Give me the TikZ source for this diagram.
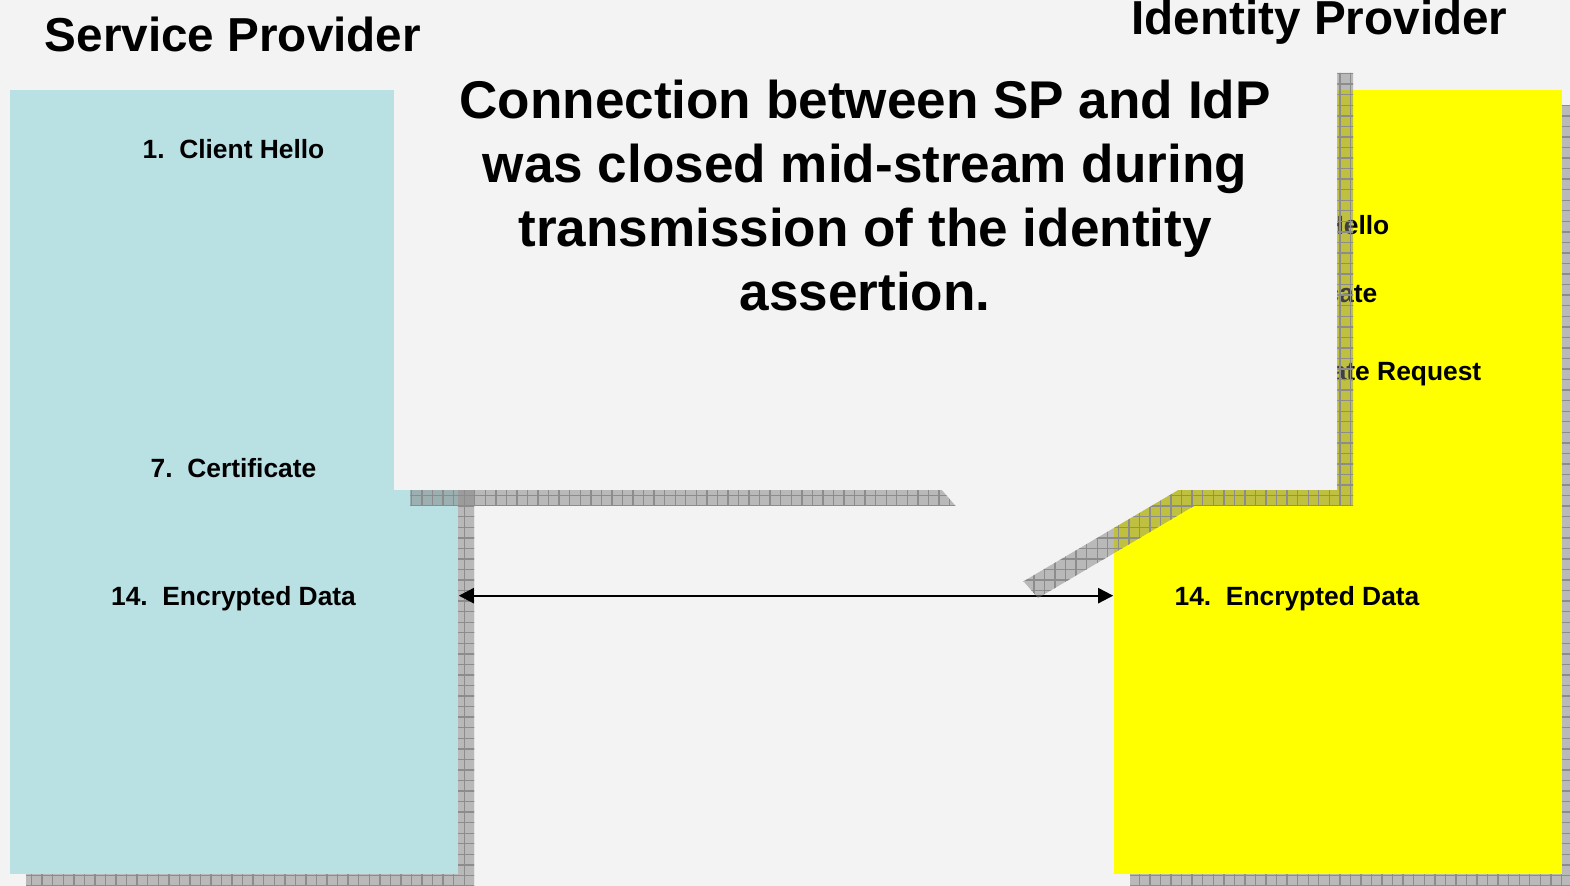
\documentclass[tikz,border=0pt]{standalone}
\usepackage{fontspec}
\setmainfont{Liberation Sans}
\usetikzlibrary{arrows.meta,patterns}

\definecolor{pagegray}{HTML}{F3F3F3}
\definecolor{spblue}{HTML}{B9E0E3}
\definecolor{idpyellow}{HTML}{FFFF00}

\begin{document}
\begin{tikzpicture}[x=0.01cm, y=-0.01cm,
  party/.style={rectangle, inner sep=0pt, minimum width=4.48cm, minimum height=7.84cm},
  shadowbox/.style={preaction={fill=gray, fill opacity=0.5},
    pattern=grid, pattern color=black!45},
  msg/.style={font=\fontsize{7.5}{9}\selectfont\bfseries, inner sep=0pt},
  partytitle/.style={font=\fontsize{13.55}{16}\selectfont\bfseries, inner sep=0pt},
  exchange/.style={arrows={Triangle[length=4.3pt,width=4.3pt]-Triangle[length=4.3pt,width=4.3pt]},
    line width=0.6pt}]

  % Page
  \fill[pagegray] (0,0) rectangle (1570,886);
  \useasboundingbox (0,0) rectangle (1570,886);

  % Service Provider column
  \fill[shadowbox] (26,106) rectangle (474,890);
  \node[party, fill=spblue] (sp) at (234,482) {};
  \node[msg, anchor=base] (sp1) at (233.5,158.5) {1.~~Client Hello};
  \node[msg, anchor=base] (sp7) at (233.5,477.5) {7.~~Certificate};
  \node[msg, anchor=base] (sp14) at (233.5,605.5) {14.~~Encrypted Data};

  % Identity Provider column
  \fill[shadowbox] (1130,106) rectangle (1578,890);
  \node[party, fill=idpyellow] (idp) at (1338,482) {};
  \node[msg, anchor=base east] (idp2) at (1390,234.5) {2.~~Server Hello};
  \node[msg, anchor=base east] (idp3) at (1378,302.5) {3.~~Certificate};
  \node[msg, anchor=base east] (idp4) at (1482,381) {4.~~Certificate Request};
  \node[msg, anchor=base] (idp14) at (1297,605.5) {14.~~Encrypted Data};

  % Data exchange
  \draw[exchange] ([yshift=0.03cm]sp.east |- sp14) -- ([yshift=0.03cm]idp.west |- idp14);

  % Callout
  \fill[shadowbox] (410,73) -- (1353,73) -- (1353,506) -- (1194,506)
    -- (1038,598) -- (958,506) -- (410,506) -- cycle;
  \fill[pagegray] (394,57) -- (1337,57) -- (1337,490) -- (1178,490)
    -- (1022,582) -- (942,490) -- (394,490) -- cycle;
  \node[font=\fontsize{15.1}{18.2}\selectfont\bfseries, align=center] (note) at (865,196)
    {Connection between SP and IdP\\was closed mid-stream during\\transmission of the identity\\assertion.};

  % Titles
  \node[partytitle, anchor=base] (sptitle) at (233,52) {Service Provider};
  \node[partytitle, anchor=base] (idptitle) at (1319.5,35) {Identity Provider};
\end{tikzpicture}
\end{document}
